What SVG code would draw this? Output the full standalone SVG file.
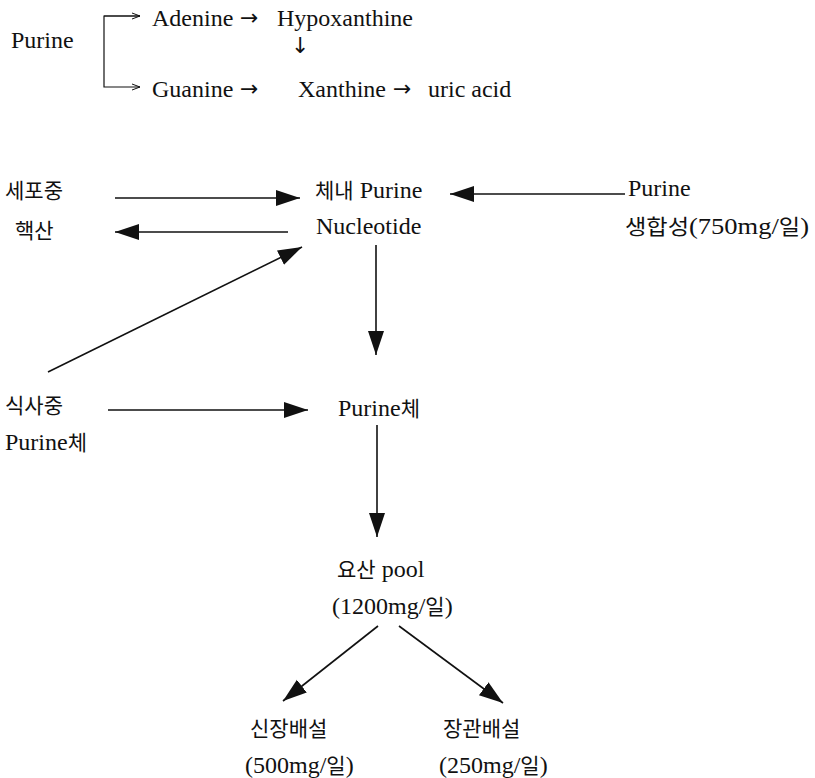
<svg xmlns="http://www.w3.org/2000/svg" width="815" height="778" viewBox="0 0 815 778">
<style>
text{font-family:"Liberation Serif","Noto Sans CJK KR",serif;font-size:24px;fill:#111}
.ko{font-size:21px}
.ar{font-family:"DejaVu Sans",sans-serif;font-size:22px}
.ln{stroke:#111;stroke-width:1.6;fill:none}
.thin{stroke:#111;stroke-width:1.2;fill:none}
</style>
<defs>
<marker id="ah" markerUnits="userSpaceOnUse" markerWidth="26" markerHeight="18" refX="24" refY="8" orient="auto">
<path d="M0,0 L24,8 L0,16 z" fill="#111"/>
</marker>
<marker id="sm" markerUnits="userSpaceOnUse" markerWidth="10" markerHeight="8" refX="8" refY="4" orient="auto">
<path d="M0,1 L8,4 L0,7" fill="none" stroke="#111" stroke-width="1"/>
</marker>
</defs>
<rect width="815" height="778" fill="#fff"/>
<g id="top">
<text x="11" y="48">Purine</text>
<path class="thin" d="M140,16 H104 V87 H140" marker-end="url(#sm)"/>
<line class="thin" x1="104" y1="16" x2="140" y2="16" marker-end="url(#sm)"/>
<text x="152" y="26">Adenine</text>
<text class="ar" x="240" y="25">→</text>
<text x="277" y="26">Hypoxanthine</text>
<text class="ar" x="291" y="53">↓</text>
<text x="152" y="97">Guanine</text>
<text class="ar" x="240" y="96">→</text>
<text x="298" y="97">Xanthine</text>
<text class="ar" x="393" y="96">→</text>
<text x="428" y="97">uric acid</text>
</g>
<g id="connectors">
<line class="ln" x1="115" y1="198" x2="300" y2="198" marker-end="url(#ah)"/>
<line class="ln" x1="288" y1="232" x2="115" y2="232" marker-end="url(#ah)"/>
<line class="ln" x1="625" y1="194" x2="450" y2="194" marker-end="url(#ah)"/>
<line class="ln" x1="376" y1="245" x2="376" y2="355" marker-end="url(#ah)"/>
<line class="ln" x1="48" y1="372" x2="302" y2="247" marker-end="url(#ah)"/>
<line class="ln" x1="108" y1="410" x2="308" y2="410" marker-end="url(#ah)"/>
<line class="ln" x1="377" y1="425" x2="377" y2="537" marker-end="url(#ah)"/>
<line class="ln" x1="378" y1="626" x2="283" y2="701" marker-end="url(#ah)"/>
<line class="ln" x1="399" y1="626" x2="503" y2="703" marker-end="url(#ah)"/>
</g>
<g id="n-cell">
<text class="ko" x="5" y="198">세포중</text>
<text class="ko" x="15" y="238">핵산</text>
</g>
<g id="n-body">
<text x="315" y="198"><tspan class="ko">체내</tspan> Purine</text>
<text x="316" y="234">Nucleotide</text>
</g>
<g id="n-synth">
<text x="628" y="196">Purine</text>
<text x="625" y="234" textLength="184" lengthAdjust="spacingAndGlyphs"><tspan class="ko">생합성</tspan>(750mg/<tspan class="ko">일</tspan>)</text>
</g>
<g id="n-diet">
<text class="ko" x="5" y="413">식사중</text>
<text x="5" y="450">Purine<tspan class="ko">체</tspan></text>
</g>
<g id="n-purine">
<text x="338" y="416">Purine<tspan class="ko">체</tspan></text>
</g>
<g id="n-pool">
<text x="337" y="577"><tspan class="ko">요산</tspan> pool</text>
<text x="332" y="614">(1200mg/<tspan class="ko">일</tspan>)</text>
</g>
<g id="n-kidney">
<text class="ko" x="250" y="736">신장배설</text>
<text x="245" y="773">(500mg/<tspan class="ko">일</tspan>)</text>
</g>
<g id="n-gut">
<text class="ko" x="443" y="736">장관배설</text>
<text x="439" y="773">(250mg/<tspan class="ko">일</tspan>)</text>
</g>
</svg>
